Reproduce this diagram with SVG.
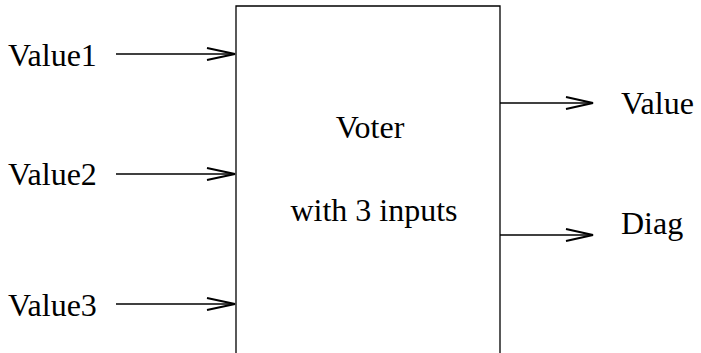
<svg xmlns="http://www.w3.org/2000/svg" width="701" height="353" viewBox="0 0 701 353">
<style>
  .t { font-family: "Liberation Serif", "Times New Roman", serif; font-size: 32px; fill: #000; }
  .ln { stroke: #000; stroke-width: 1.3; fill: none; }
  .ah { stroke: #000; stroke-width: 2; fill: none; }
</style>
<rect width="701" height="353" fill="#fff"/>
<g id="voter">
  <path class="ln" d="M236,360 V6 H500 V360"/>
  <text class="t" x="370" y="138" text-anchor="middle">Voter</text>
  <text class="t" x="374" y="221" text-anchor="middle">with 3 inputs</text>
</g>
<g id="value1"><text class="t" x="8" y="66">Value1</text></g>
<g id="value2"><text class="t" x="8" y="185">Value2</text></g>
<g id="value3"><text class="t" x="8" y="316">Value3</text></g>
<g id="value-out"><text class="t" x="621" y="114">Value</text></g>
<g id="diag-out"><text class="t" x="621" y="234">Diag</text></g>
<g id="connectors">
  <path class="ln" d="M116,54 H235"/>
  <path class="ah" d="M207,48 L235,54 L207,60"/>
  <path class="ln" d="M116,174 H235"/>
  <path class="ah" d="M207,168 L235,174 L207,180"/>
  <path class="ln" d="M116,304 H235"/>
  <path class="ah" d="M207,298 L235,304 L207,310"/>
  <path class="ln" d="M500,103 H593"/>
  <path class="ah" d="M566,97 L593,103 L566,109"/>
  <path class="ln" d="M500,235 H593"/>
  <path class="ah" d="M566,229 L593,235 L566,241"/>
</g>
</svg>
